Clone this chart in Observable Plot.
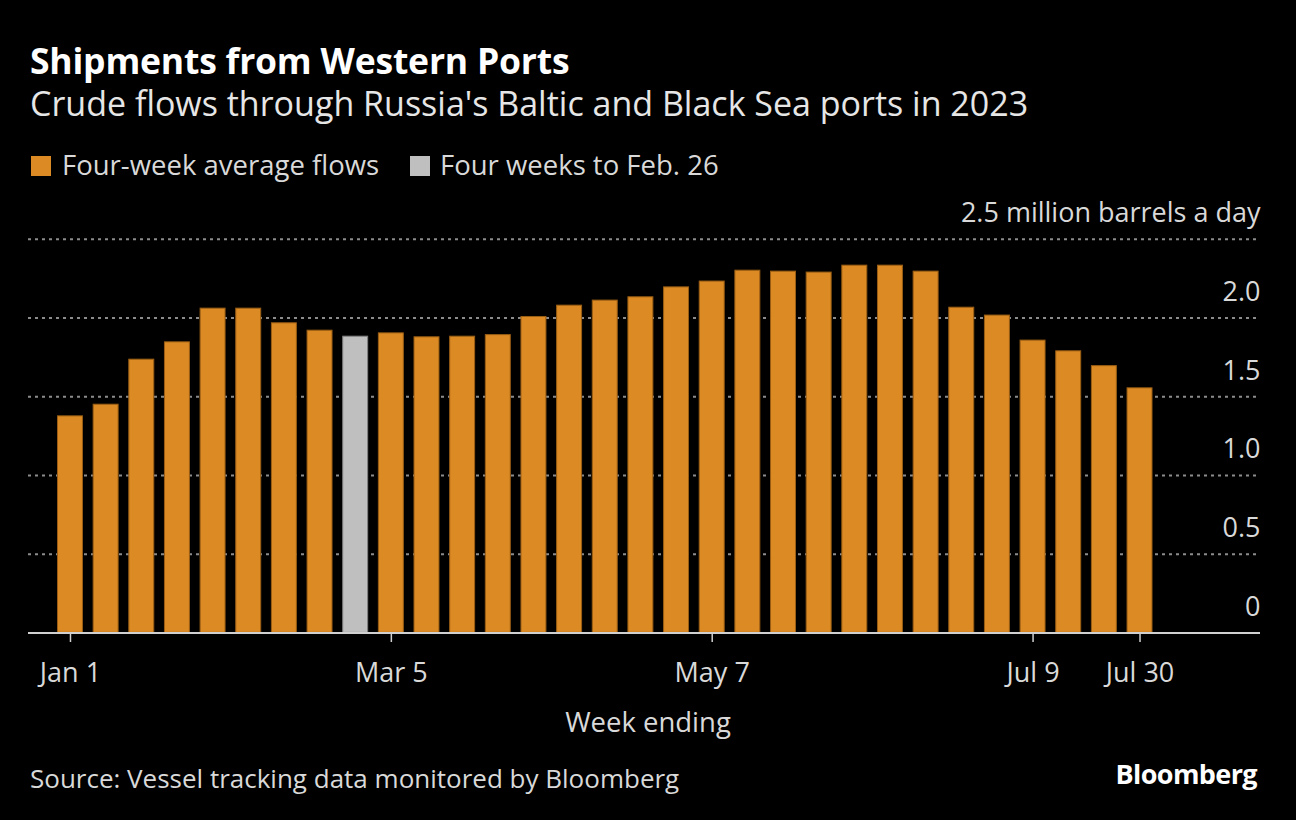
<!DOCTYPE html>
<html>
<head>
<meta charset="utf-8">
<script src="https://cdn.jsdelivr.net/npm/d3@7"></script>
<script src="https://cdn.jsdelivr.net/npm/@observablehq/plot@0.6"></script>
<style>
  html, body { margin: 0; padding: 0; background: #000; }
  body { width: 1296px; height: 820px; position: relative; overflow: hidden; font-family: "Open Sans", "Noto Sans", sans-serif; color: #d9d9d9; }
  .abs { position: absolute; white-space: nowrap; line-height: 1; }
  #title { left: 30px; top: 43px; font-size: 35.5px; font-weight: 700; color: #ffffff; letter-spacing: -0.2px; }
  #subtitle { left: 30px; top: 86px; font-size: 34px; color: #e6e6e6; }
  .sw { position: absolute; width: 20px; height: 20px; top: 156px; }
  .lg { top: 151px; font-size: 27.5px; color: #d9d9d9; }
  #xlabel { left: 0; width: 1296px; text-align: center; top: 708px; font-size: 27.5px; color: #d9d9d9; }
  #source { left: 30px; top: 765px; font-size: 26px; color: #d9d9d9; }
  #brand { right: 39px; top: 760px; font-size: 27px; font-weight: 700; color: #ffffff; letter-spacing: -0.6px; }
  #chart { position: absolute; left: 0; top: 190px; }
</style>
</head>
<body>
<div id="title" class="abs">Shipments from Western Ports</div>
<div id="subtitle" class="abs">Crude flows through Russia's Baltic and Black Sea ports in 2023</div>
<div class="sw" style="left:31px;background:#DC8A24"></div>
<div class="abs lg" style="left:62px">Four-week average flows</div>
<div class="sw" style="left:410px;background:#BFBFBF"></div>
<div class="abs lg" style="left:440px">Four weeks to Feb. 26</div>
<div id="chart"></div>
<div id="xlabel" class="abs">Week ending</div>
<div id="source" class="abs">Source: Vessel tracking data monitored by Bloomberg</div>
<div id="brand" class="abs">Bloomberg</div>
<script>
const weeks = ["Jan 1","Jan 8","Jan 15","Jan 22","Jan 29","Feb 5","Feb 12","Feb 19","Feb 26",
  "Mar 5","Mar 12","Mar 19","Mar 26","Apr 2","Apr 9","Apr 16","Apr 23","Apr 30",
  "May 7","May 14","May 21","May 28","Jun 4","Jun 11","Jun 18","Jun 25",
  "Jul 2","Jul 9","Jul 16","Jul 23","Jul 30"];
const flows = [1.375,1.449,1.735,1.845,2.059,2.059,1.966,1.919,1.881,
  1.902,1.877,1.881,1.891,2.006,2.078,2.110,2.131,2.194,
  2.231,2.300,2.294,2.288,2.332,2.332,2.294,2.065,
  2.015,1.856,1.788,1.694,1.553];
const highlightWeek = "Feb 26";
const yTicks = [0, 0.5, 1.0, 1.5, 2.0, 2.5];
const xTickLabels = ["Jan 1","Mar 5","May 7","Jul 9","Jul 30"];
const unitLabel = "million barrels a day";

const data = weeks.map((w, i) => ({week: w, value: flows[i]}));
const fmtY = d => d === 0 ? "0" : (d === 2.5 ? d.toFixed(1) + " " + unitLabel : d.toFixed(1));

const chart = Plot.plot({
  width: 1296,
  height: 560,
  marginLeft: 28,
  marginRight: 36,
  marginTop: 49,
  marginBottom: 118,
  style: {background: "transparent", color: "#d9d9d9", fontFamily: "'Open Sans', 'Noto Sans', sans-serif", fontSize: "27px"},
  x: {type: "band", domain: weeks, range: [57.5, 1152], paddingInner: 0.3, paddingOuter: 0, round: false, axis: null},
  y: {domain: [0, 2.5], range: [442.4, 48.7], axis: null},
  marks: [
    Plot.ruleY(yTicks.filter(d => d > 0), {stroke: "#8c8c8c", strokeWidth: 2, strokeDasharray: "3,4"}),
    Plot.barY(data.filter(d => d.week !== highlightWeek), {x: "week", y: "value", fill: "#DC8A24", stroke: "#9a5e14", strokeWidth: 1}),
    Plot.barY(data.filter(d => d.week === highlightWeek), {x: "week", y: "value", fill: "#BFBFBF", stroke: "#7f7f7f", strokeWidth: 1}),
    Plot.ruleY([0], {stroke: "#d0d0d0", strokeWidth: 2}),
    Plot.axisX({ticks: xTickLabels, tickSize: 10, tickPadding: 20, stroke: "#d0d0d0", strokeWidth: 1.5, fill: "#d9d9d9", fontSize: 27, label: null}),
    Plot.text(yTicks, {y: d => d, text: fmtY, frameAnchor: "right", textAnchor: "end", lineAnchor: "bottom", dy: -17, fill: "#d9d9d9", fontSize: 27})
  ]
});
document.getElementById("chart").appendChild(chart);
</script>
</body>
</html>
